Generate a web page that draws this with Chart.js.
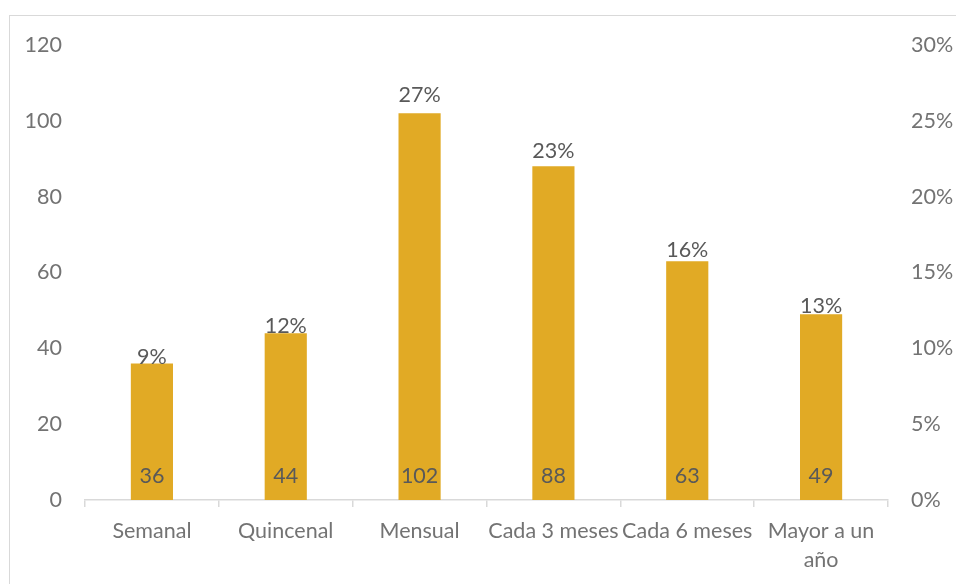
<!DOCTYPE html>
<html>
<head>
<meta charset="utf-8">
<script src="https://cdn.jsdelivr.net/npm/chart.js@4/dist/chart.umd.min.js"></script>
<style>
  html, body { margin: 0; padding: 0; background: #fff; overflow: hidden; }
  #frame { position: absolute; left: 9px; top: 15px; width: 980px; height: 600px; border: 1.5px solid #d9d9d9; }
  #wrap { position: absolute; left: 0; top: 0; width: 956px; height: 584px; }
</style>
</head>
<body>
<div id="frame"></div>
<div id="wrap"><canvas id="myChart"></canvas></div>
<script>
const categories = ['Semanal', 'Quincenal', 'Mensual', 'Cada 3 meses', 'Cada 6 meses', ['Mayor a un', 'año']];
const counts = [36, 44, 102, 88, 63, 49];
const shares = [0.094, 0.115, 0.267, 0.230, 0.165, 0.128];
const shareLabels = ['9%', '12%', '27%', '23%', '16%', '13%'];

const barColor = '#E1AA25';
const textColor = '#595959';
const tickColor = '#737373';
const fontFamily = 'Lato, "Open Sans", sans-serif';
const fontSize = 21.5;

const labelPlugin = {
    id: 'labels',
    afterDatasetsDraw(chart) {
        const ctx = chart.ctx;
        ctx.save();
        ctx.font = `${fontSize}px ${fontFamily}`;
        ctx.fillStyle = textColor;
        ctx.textAlign = 'center';
        ctx.textBaseline = 'middle';

        chart.getDatasetMeta(0).data.forEach((bar, i) => {
            ctx.fillText(String(counts[i]), bar.x, bar.base - 24);
        });
        chart.getDatasetMeta(1).data.forEach((pt, i) => {
            ctx.fillText(shareLabels[i], pt.x, pt.y);
        });
        ctx.restore();
    }
};

new Chart(document.getElementById('myChart'), {
    type: 'bar',
    data: {
        labels: categories,
        datasets: [
            {
                label: 'Frecuencia',
                data: counts,
                backgroundColor: barColor,
                categoryPercentage: 1,
                barPercentage: 0.315,
                yAxisID: 'y',
                order: 2
            },
            {
                type: 'line',
                label: 'Porcentaje',
                data: shares,
                showLine: false,
                pointRadius: 0,
                pointHoverRadius: 0,
                yAxisID: 'y1',
                order: 1
            }
        ]
    },
    plugins: [labelPlugin],
    options: {
        responsive: true,
        maintainAspectRatio: false,
        animation: false,
        layout: { padding: { top: 45, bottom: 0, left: 0, right: 0 } },
        plugins: {
            legend: { display: false },
            tooltip: { enabled: false }
        },
        scales: {
            x: {
                grid: {
                    display: true,
                    offset: true,
                    drawOnChartArea: false,
                    drawTicks: true,
                    tickLength: 7,
                    color: '#d9d9d9',
                    lineWidth: 1.5
                },
                border: { display: true, color: '#d9d9d9', width: 1.5 },
                ticks: {
                    color: tickColor,
                    font: { family: fontFamily, size: fontSize, lineHeight: 1.35 },
                    padding: 10,
                    maxRotation: 0,
                    minRotation: 0,
                    autoSkip: false
                },
                afterFit: (scale) => { scale.height = 84; }
            },
            y: {
                position: 'left',
                min: 0,
                max: 120,
                grid: { display: false, drawTicks: false },
                border: { display: false },
                ticks: {
                    stepSize: 20,
                    color: tickColor,
                    font: { family: fontFamily, size: fontSize },
                    padding: 23
                },
                afterFit: (scale) => { scale.width = 85; }
            },
            y1: {
                position: 'right',
                min: 0,
                max: 0.3,
                grid: { display: false, drawTicks: false },
                border: { display: false },
                ticks: {
                    stepSize: 0.05,
                    color: tickColor,
                    font: { family: fontFamily, size: fontSize },
                    padding: 23,
                    callback: (v) => Math.round(v * 100) + '%'
                },
                afterFit: (scale) => { scale.width = 68; }
            }
        }
    }
});
</script>
</body>
</html>
